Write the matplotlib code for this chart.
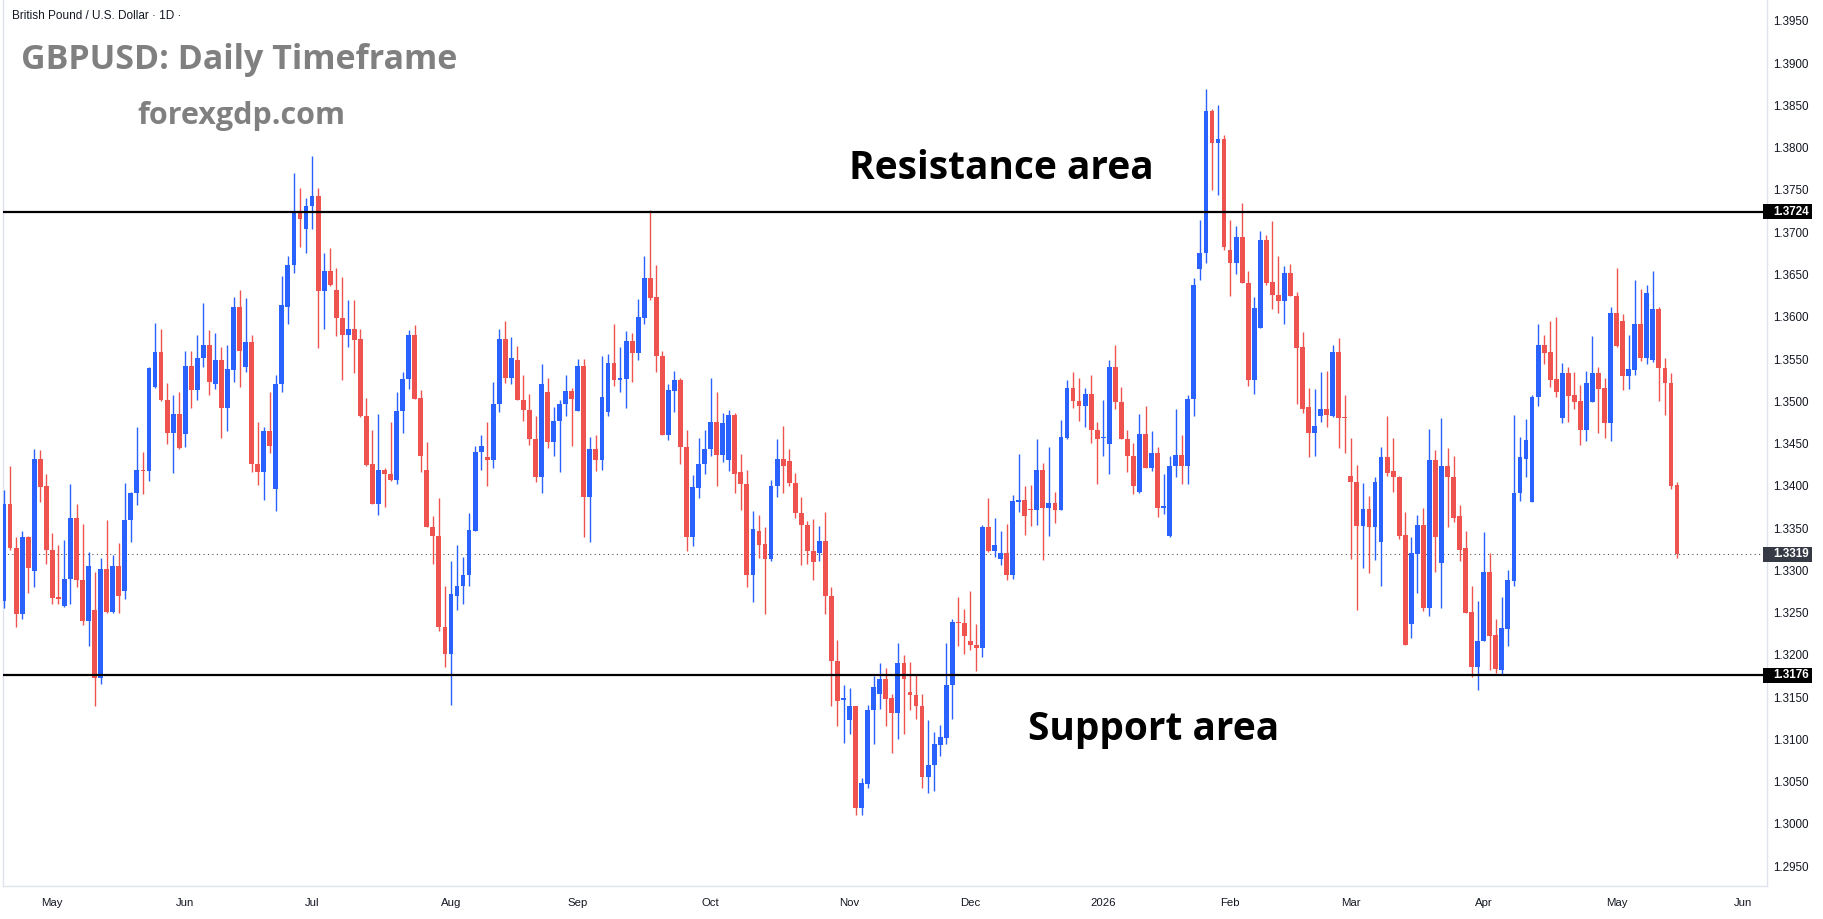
import numpy as np
import pandas as pd
import matplotlib
matplotlib.use("Agg")
import matplotlib.pyplot as plt
import matplotlib.transforms as mtransforms
from matplotlib.patches import Rectangle

# GBPUSD daily candles, 21 Apr 2025 -> 15 May 2026
opens = [
    1.3264, 1.3379, 1.3327, 1.3248, 1.3339, 1.3299, 1.3432, 1.3400, 1.3324, 1.3268,
    1.3258, 1.3290, 1.3362, 1.3288, 1.3240, 1.3253, 1.3173, 1.3302, 1.3251, 1.3305,
    1.3275, 1.3360, 1.3391, 1.3419, 1.3417, 1.3517, 1.3558, 1.3502, 1.3463, 1.3485,
    1.3461, 1.3542, 1.3513, 1.3551, 1.3567, 1.3521, 1.3549, 1.3492, 1.3537, 1.3612,
    1.3541, 1.3570, 1.3426, 1.3416, 1.3465, 1.3396, 1.3521, 1.3612, 1.3661, 1.3725,
    1.3704, 1.3731, 1.3743, 1.3631, 1.3654, 1.3632, 1.3599, 1.3579, 1.3585, 1.3574,
    1.3482, 1.3426, 1.3378, 1.3419, 1.3414, 1.3407, 1.3488, 1.3526, 1.3578, 1.3504,
    1.3419, 1.3351, 1.3341, 1.3233, 1.3201, 1.3270, 1.3281, 1.3295, 1.3347, 1.3440,
    1.3434, 1.3430, 1.3497, 1.3574, 1.3527, 1.3549, 1.3502, 1.3490, 1.3455, 1.3411,
    1.3511, 1.3452, 1.3477, 1.3497, 1.3512, 1.3489, 1.3542, 1.3387, 1.3444, 1.3431,
    1.3487, 1.3545, 1.3525, 1.3526, 1.3571, 1.3557, 1.3599, 1.3646, 1.3623, 1.3554,
    1.3460, 1.3512, 1.3525, 1.3446, 1.3340, 1.3398, 1.3426, 1.3444, 1.3476, 1.3436,
    1.3430, 1.3484, 1.3416, 1.3402, 1.3294, 1.3347, 1.3331, 1.3314, 1.3400, 1.3432,
    1.3429, 1.3403, 1.3368, 1.3354, 1.3323, 1.3321, 1.3335, 1.3270, 1.3193, 1.3147,
    1.3123, 1.3139, 1.3019, 1.3047, 1.3135, 1.3154, 1.3172, 1.3149, 1.3131, 1.3190,
    1.3156, 1.3152, 1.3140, 1.3056, 1.3070, 1.3093, 1.3102, 1.3164, 1.3239, 1.3238,
    1.3216, 1.3212, 1.3208, 1.3351, 1.3323, 1.3313, 1.3321, 1.3294, 1.3381, 1.3383,
    1.3373, 1.3371, 1.3419, 1.3374, 1.3380, 1.3371, 1.3456, 1.3516, 1.3500, 1.3495,
    1.3509, 1.3466, 1.3456, 1.3449, 1.3541, 1.3499, 1.3455, 1.3435, 1.3393, 1.3461,
    1.3421, 1.3439, 1.3374, 1.3341, 1.3424, 1.3437, 1.3424, 1.3503, 1.3657, 1.3676,
    1.3843, 1.3805, 1.3810, 1.3679, 1.3663, 1.3694, 1.3640, 1.3525, 1.3587, 1.3691,
    1.3641, 1.3626, 1.3619, 1.3652, 1.3625, 1.3564, 1.3493, 1.3462, 1.3483, 1.3491,
    1.3483, 1.3558, 1.3481, 1.3412, 1.3405, 1.3353, 1.3373, 1.3351, 1.3333, 1.3434,
    1.3417, 1.3411, 1.3342, 1.3236, 1.3319, 1.3354, 1.3256, 1.3430, 1.3309, 1.3424,
    1.3411, 1.3364, 1.3326, 1.3251, 1.3186, 1.3216, 1.3298, 1.3223, 1.3182, 1.3231,
    1.3287, 1.3391, 1.3432, 1.3381, 1.3505, 1.3567, 1.3558, 1.3526, 1.3480, 1.3533,
    1.3507, 1.3500, 1.3466, 1.3499, 1.3533, 1.3516, 1.3474, 1.3604, 1.3595, 1.3530,
    1.3537, 1.3592, 1.3551, 1.3549, 1.3609, 1.3539, 1.3522, 1.3401,
]
highs = [
    1.3395, 1.3423, 1.3339, 1.3347, 1.3341, 1.3444, 1.3442, 1.3414, 1.3344, 1.3330,
    1.3336, 1.3402, 1.3379, 1.3355, 1.3322, 1.3298, 1.3315, 1.3360, 1.3318, 1.3332,
    1.3403, 1.3393, 1.3469, 1.3440, 1.3540, 1.3593, 1.3586, 1.3522, 1.3507, 1.3511,
    1.3559, 1.3559, 1.3579, 1.3616, 1.3584, 1.3581, 1.3564, 1.3567, 1.3623, 1.3632,
    1.3622, 1.3579, 1.3476, 1.3470, 1.3511, 1.3531, 1.3648, 1.3672, 1.3770, 1.3752,
    1.3741, 1.3790, 1.3752, 1.3676, 1.3681, 1.3658, 1.3647, 1.3620, 1.3620, 1.3585,
    1.3504, 1.3466, 1.3485, 1.3421, 1.3475, 1.3511, 1.3535, 1.3584, 1.3590, 1.3513,
    1.3452, 1.3364, 1.3386, 1.3281, 1.3311, 1.3330, 1.3316, 1.3368, 1.3447, 1.3460,
    1.3476, 1.3523, 1.3585, 1.3595, 1.3576, 1.3565, 1.3531, 1.3509, 1.3483, 1.3544,
    1.3527, 1.3493, 1.3502, 1.3531, 1.3516, 1.3550, 1.3550, 1.3458, 1.3460, 1.3554,
    1.3556, 1.3591, 1.3564, 1.3583, 1.3581, 1.3621, 1.3672, 1.3726, 1.3661, 1.3559,
    1.3521, 1.3536, 1.3528, 1.3466, 1.3413, 1.3456, 1.3466, 1.3527, 1.3511, 1.3486,
    1.3490, 1.3486, 1.3438, 1.3419, 1.3370, 1.3365, 1.3351, 1.3407, 1.3455, 1.3471,
    1.3443, 1.3415, 1.3387, 1.3358, 1.3361, 1.3353, 1.3369, 1.3280, 1.3218, 1.3164,
    1.3161, 1.3139, 1.3054, 1.3141, 1.3175, 1.3190, 1.3184, 1.3154, 1.3214, 1.3200,
    1.3192, 1.3176, 1.3154, 1.3123, 1.3109, 1.3117, 1.3214, 1.3243, 1.3268, 1.3254,
    1.3276, 1.3236, 1.3354, 1.3386, 1.3362, 1.3346, 1.3355, 1.3389, 1.3438, 1.3400,
    1.3401, 1.3455, 1.3427, 1.3446, 1.3393, 1.3478, 1.3525, 1.3535, 1.3527, 1.3516,
    1.3531, 1.3476, 1.3501, 1.3549, 1.3567, 1.3517, 1.3466, 1.3451, 1.3485, 1.3495,
    1.3465, 1.3446, 1.3414, 1.3435, 1.3491, 1.3460, 1.3507, 1.3646, 1.3714, 1.3869,
    1.3846, 1.3850, 1.3815, 1.3715, 1.3707, 1.3734, 1.3654, 1.3623, 1.3701, 1.3697,
    1.3713, 1.3672, 1.3660, 1.3662, 1.3629, 1.3582, 1.3516, 1.3515, 1.3535, 1.3536,
    1.3567, 1.3575, 1.3508, 1.3456, 1.3425, 1.3403, 1.3388, 1.3410, 1.3446, 1.3483,
    1.3457, 1.3412, 1.3369, 1.3340, 1.3365, 1.3374, 1.3467, 1.3442, 1.3480, 1.3445,
    1.3435, 1.3377, 1.3347, 1.3282, 1.3264, 1.3345, 1.3321, 1.3242, 1.3268, 1.3300,
    1.3484, 1.3458, 1.3479, 1.3508, 1.3591, 1.3579, 1.3595, 1.3600, 1.3545, 1.3540,
    1.3535, 1.3519, 1.3536, 1.3577, 1.3541, 1.3528, 1.3612, 1.3658, 1.3603, 1.3578,
    1.3643, 1.3633, 1.3637, 1.3654, 1.3611, 1.3551, 1.3533, 1.3405,
]
lows = [
    1.3255, 1.3324, 1.3233, 1.3243, 1.3273, 1.3280, 1.3381, 1.3308, 1.3260, 1.3260,
    1.3257, 1.3260, 1.3280, 1.3235, 1.3211, 1.3140, 1.3165, 1.3250, 1.3249, 1.3250,
    1.3266, 1.3334, 1.3377, 1.3390, 1.3406, 1.3516, 1.3500, 1.3449, 1.3415, 1.3444,
    1.3446, 1.3492, 1.3501, 1.3540, 1.3507, 1.3515, 1.3456, 1.3465, 1.3523, 1.3517,
    1.3535, 1.3416, 1.3401, 1.3383, 1.3439, 1.3370, 1.3511, 1.3591, 1.3652, 1.3683,
    1.3675, 1.3704, 1.3563, 1.3586, 1.3636, 1.3577, 1.3525, 1.3564, 1.3534, 1.3481,
    1.3424, 1.3378, 1.3365, 1.3375, 1.3406, 1.3402, 1.3462, 1.3515, 1.3503, 1.3416,
    1.3351, 1.3308, 1.3228, 1.3186, 1.3141, 1.3253, 1.3260, 1.3282, 1.3346, 1.3419,
    1.3400, 1.3421, 1.3487, 1.3522, 1.3521, 1.3501, 1.3477, 1.3448, 1.3405, 1.3391,
    1.3445, 1.3435, 1.3416, 1.3483, 1.3447, 1.3489, 1.3340, 1.3333, 1.3417, 1.3419,
    1.3483, 1.3518, 1.3511, 1.3492, 1.3523, 1.3549, 1.3592, 1.3620, 1.3535, 1.3460,
    1.3454, 1.3487, 1.3426, 1.3323, 1.3329, 1.3386, 1.3414, 1.3435, 1.3400, 1.3428,
    1.3417, 1.3392, 1.3371, 1.3280, 1.3262, 1.3315, 1.3248, 1.3311, 1.3387, 1.3391,
    1.3400, 1.3362, 1.3306, 1.3308, 1.3288, 1.3311, 1.3248, 1.3140, 1.3116, 1.3096,
    1.3107, 1.3011, 1.3011, 1.3043, 1.3095, 1.3136, 1.3116, 1.3084, 1.3100, 1.3107,
    1.3135, 1.3124, 1.3043, 1.3037, 1.3039, 1.3080, 1.3095, 1.3124, 1.3210, 1.3201,
    1.3206, 1.3181, 1.3198, 1.3322, 1.3316, 1.3306, 1.3288, 1.3290, 1.3369, 1.3342,
    1.3353, 1.3354, 1.3312, 1.3341, 1.3356, 1.3371, 1.3455, 1.3492, 1.3477, 1.3469,
    1.3451, 1.3402, 1.3435, 1.3414, 1.3491, 1.3455, 1.3416, 1.3390, 1.3391, 1.3421,
    1.3417, 1.3363, 1.3367, 1.3340, 1.3410, 1.3402, 1.3402, 1.3483, 1.3644, 1.3663,
    1.3750, 1.3744, 1.3679, 1.3624, 1.3651, 1.3640, 1.3518, 1.3509, 1.3587, 1.3638,
    1.3609, 1.3605, 1.3591, 1.3624, 1.3497, 1.3486, 1.3434, 1.3435, 1.3476, 1.3470,
    1.3481, 1.3445, 1.3439, 1.3313, 1.3253, 1.3303, 1.3297, 1.3312, 1.3282, 1.3412,
    1.3393, 1.3337, 1.3212, 1.3220, 1.3273, 1.3252, 1.3246, 1.3298, 1.3256, 1.3351,
    1.3357, 1.3311, 1.3250, 1.3174, 1.3159, 1.3216, 1.3182, 1.3179, 1.3176, 1.3211,
    1.3281, 1.3382, 1.3411, 1.3381, 1.3495, 1.3544, 1.3517, 1.3505, 1.3474, 1.3475,
    1.3491, 1.3448, 1.3453, 1.3499, 1.3463, 1.3457, 1.3453, 1.3564, 1.3513, 1.3514,
    1.3531, 1.3548, 1.3544, 1.3547, 1.3500, 1.3484, 1.3396, 1.3315,
]
closes = [
    1.3379, 1.3326, 1.3248, 1.3339, 1.3303, 1.3432, 1.3399, 1.3324, 1.3267, 1.3266,
    1.3290, 1.3362, 1.3288, 1.3240, 1.3305, 1.3173, 1.3302, 1.3251, 1.3305, 1.3270,
    1.3360, 1.3391, 1.3419, 1.3417, 1.3539, 1.3558, 1.3501, 1.3463, 1.3485, 1.3445,
    1.3542, 1.3513, 1.3551, 1.3567, 1.3523, 1.3549, 1.3492, 1.3538, 1.3612, 1.3559,
    1.3570, 1.3426, 1.3416, 1.3465, 1.3447, 1.3521, 1.3614, 1.3661, 1.3725, 1.3716,
    1.3731, 1.3743, 1.3631, 1.3654, 1.3638, 1.3599, 1.3579, 1.3585, 1.3573, 1.3482,
    1.3425, 1.3378, 1.3419, 1.3414, 1.3407, 1.3488, 1.3526, 1.3578, 1.3503, 1.3435,
    1.3351, 1.3341, 1.3233, 1.3201, 1.3272, 1.3281, 1.3295, 1.3348, 1.3440, 1.3447,
    1.3430, 1.3497, 1.3574, 1.3527, 1.3551, 1.3501, 1.3490, 1.3455, 1.3411, 1.3520,
    1.3452, 1.3477, 1.3497, 1.3512, 1.3503, 1.3542, 1.3387, 1.3444, 1.3431, 1.3505,
    1.3545, 1.3525, 1.3527, 1.3571, 1.3557, 1.3600, 1.3646, 1.3622, 1.3554, 1.3460,
    1.3513, 1.3525, 1.3446, 1.3340, 1.3399, 1.3426, 1.3444, 1.3476, 1.3436, 1.3474,
    1.3484, 1.3414, 1.3402, 1.3294, 1.3349, 1.3330, 1.3314, 1.3400, 1.3432, 1.3424,
    1.3403, 1.3368, 1.3354, 1.3323, 1.3310, 1.3335, 1.3270, 1.3193, 1.3146, 1.3149,
    1.3139, 1.3019, 1.3049, 1.3135, 1.3162, 1.3172, 1.3148, 1.3131, 1.3190, 1.3172,
    1.3152, 1.3140, 1.3056, 1.3070, 1.3095, 1.3103, 1.3164, 1.3239, 1.3238, 1.3222,
    1.3212, 1.3208, 1.3351, 1.3323, 1.3330, 1.3321, 1.3294, 1.3382, 1.3383, 1.3364,
    1.3371, 1.3419, 1.3374, 1.3380, 1.3371, 1.3458, 1.3516, 1.3500, 1.3495, 1.3509,
    1.3466, 1.3455, 1.3457, 1.3541, 1.3499, 1.3455, 1.3435, 1.3400, 1.3461, 1.3421,
    1.3439, 1.3374, 1.3376, 1.3424, 1.3437, 1.3424, 1.3503, 1.3638, 1.3676, 1.3843,
    1.3805, 1.3810, 1.3682, 1.3663, 1.3694, 1.3640, 1.3525, 1.3610, 1.3691, 1.3640,
    1.3626, 1.3619, 1.3652, 1.3624, 1.3563, 1.3491, 1.3462, 1.3471, 1.3491, 1.3484,
    1.3558, 1.3480, 1.3480, 1.3405, 1.3353, 1.3373, 1.3351, 1.3404, 1.3434, 1.3415,
    1.3410, 1.3341, 1.3212, 1.3320, 1.3354, 1.3256, 1.3430, 1.3340, 1.3424, 1.3410,
    1.3362, 1.3324, 1.3250, 1.3186, 1.3216, 1.3298, 1.3222, 1.3183, 1.3232, 1.3289,
    1.3392, 1.3434, 1.3454, 1.3505, 1.3567, 1.3557, 1.3525, 1.3511, 1.3533, 1.3506,
    1.3499, 1.3466, 1.3522, 1.3533, 1.3515, 1.3474, 1.3604, 1.3565, 1.3530, 1.3538,
    1.3592, 1.3551, 1.3628, 1.3609, 1.3539, 1.3522, 1.3400, 1.3319,
]

resistance = 1.3724
support = 1.3176
last_price = 1.3319
price_ticks = np.round(np.arange(1.2950, 1.39501, 0.0050), 4)

UP = "#2962FF"
DOWN = "#EF5350"
TXT = "#131722"

# trading days (FX feed skips 25 Dec and 1 Jan)
days = pd.bdate_range("2025-04-21", "2026-06-05")
days = days[~days.isin(pd.to_datetime(["2025-12-25", "2026-01-01"]))]

o = np.array(opens)
h = np.array(highs)
l = np.array(lows)
c = np.array(closes)
x = np.arange(len(o))
up = c >= o
col = np.where(up, UP, DOWN)

W, H = 1823, 919
fig = plt.figure(figsize=(W / 100, H / 100), dpi=100)
ax = fig.add_axes([3 / W, 33 / H, 1764 / W, 886 / H])

ax.vlines(x, l, h, colors=col, linewidth=1.0, zorder=3)
body = np.maximum(np.abs(c - o), 0.00012)
ax.bar(x, body, bottom=np.minimum(o, c), width=0.8, color=col, linewidth=0, zorder=4)

ax.set_xlim(-0.17, 291.9)
ax.set_ylim(1.29266, 1.39747)

# levels
ax.axhline(resistance, color="black", lw=1.6, zorder=5)
ax.axhline(support, color="black", lw=1.6, zorder=5)
ax.axhline(last_price, color="#555555", lw=0.8, ls=(0, (1, 3)), zorder=2)

# price axis on the right
ax.yaxis.tick_right()
ax.set_yticks(price_ticks)
ax.set_yticklabels([f"{v:.4f}" for v in price_ticks])
ax.tick_params(axis="y", length=0, pad=4.5, labelsize=8.4, labelcolor=TXT)
for lab in ax.get_yticklabels():
    lab.set_family("Liberation Sans")

# month labels at first trading day of each month
pos, labs = [], []
for i in range(1, len(days)):
    if days[i].month != days[i - 1].month and i <= 291:
        pos.append(i)
        labs.append(str(days[i].year) if days[i].month == 1 else days[i].strftime("%b"))
ax.set_xticks(pos)
ax.set_xticklabels(labs, family="Liberation Sans")
ax.tick_params(axis="x", length=0, pad=9, labelsize=8.2, labelcolor=TXT)

ax.spines["top"].set_visible(False)
for s in ["left", "right", "bottom"]:
    ax.spines[s].set_color("#E0E3EB")
    ax.spines[s].set_linewidth(1.0)

# price badges on the scale
tr = mtransforms.blended_transform_factory(ax.transAxes, ax.transData)
half = 7.5 / (886 / (1.39747 - 1.29266))
for val, bg in [(resistance, "black"), (support, "black"), (last_price, "#363A45")]:
    ax.add_patch(Rectangle((0.9977, val - half), 0.0278, 2 * half, transform=tr,
                           fc=bg, ec="none", clip_on=False, zorder=9))
    ax.text(1.0036, val, f"{val:.4f}", transform=tr, ha="left", va="center",
            fontsize=8.4, color="white", fontweight="bold", family="Liberation Sans",
            zorder=10, clip_on=False)

# annotations
ax.text(139.9, 1.3775, "Resistance area", fontsize=28, fontweight="bold",
        family="Open Sans", color="black", ha="left", va="center", zorder=6)
ax.text(169.5, 1.3112, "Support area", fontsize=28, fontweight="bold",
        family="Open Sans", color="black", ha="left", va="center", zorder=6)

fig.text(12 / W, 1 - 16 / H, "British Pound / U.S. Dollar · 1D ·", fontsize=8.5,
         color=TXT, family="Liberation Sans", ha="left", va="center")
fig.text(21 / W, 1 - 60 / H, "GBPUSD: Daily Timeframe", fontsize=24.5,
         fontweight="bold", family="Open Sans", color="#808080", ha="left", va="center")
fig.text(137 / W, 1 - 116 / H, "forexgdp.com", fontsize=22,
         fontweight="bold", family="Open Sans", color="#808080", ha="left", va="center")

fig.savefig("out.png", dpi=100, facecolor="white")
